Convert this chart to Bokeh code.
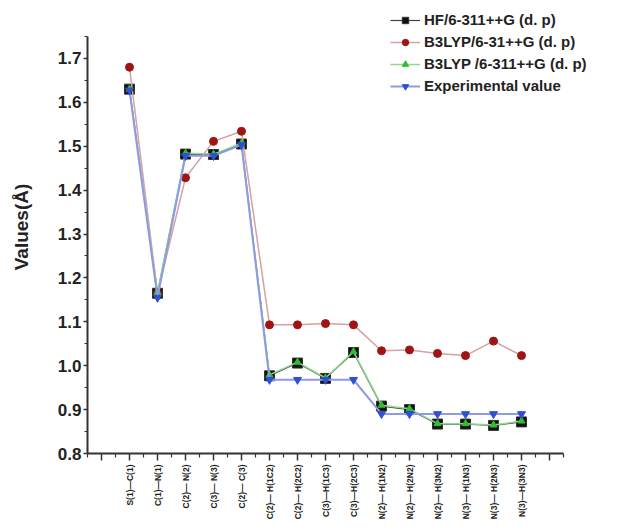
import math
from bokeh.plotting import figure
from bokeh.models import Range1d, FixedTicker, Legend, LegendItem, NumeralTickFormatter
from bokeh.embed import file_html
from bokeh.resources import INLINE

categories = ["S(1)—C(1)", "C(1)—N(1)", "C(2)— N(2)", "C(3)— N(3)", "C(2)— C(3)",
              "C(2)— H(1C2)", "C(2)— H(2C2)", "C(3)—H(1C3)", "C(3)—H(2C3)",
              "N(2)— H(1N2)", "N(2)— H(2N2)", "N(2)— H(3N2)", "N(3)— H(1N3)",
              "N(3)— H(2N3)", "N(3)—H(3N3)"]
x_pos = [1, 2, 3, 4, 5, 6, 7, 8, 9, 10, 11, 12, 13, 14, 15]

hf = [1.630, 1.165, 1.482, 1.481, 1.505, 0.977, 1.006, 0.971, 1.030,
      0.908, 0.900, 0.867, 0.867, 0.864, 0.872]
b3lyp_631 = [1.680, 1.165, 1.428, 1.511, 1.534, 1.093, 1.093, 1.096, 1.093,
             1.034, 1.036, 1.028, 1.023, 1.056, 1.023]
b3lyp_6311 = [1.630, 1.167, 1.484, 1.482, 1.507, 0.979, 1.008, 0.972, 1.032,
              0.910, 0.902, 0.868, 0.868, 0.865, 0.874]
experimental = [1.627, 1.155, 1.478, 1.478, 1.503, 0.968, 0.968, 0.968, 0.968,
                0.890, 0.890, 0.890, 0.890, 0.890, 0.890]

y_ticks = [0.8, 0.9, 1.0, 1.1, 1.2, 1.3, 1.4, 1.5, 1.6, 1.7]
y_minor = [0.85, 0.95, 1.05, 1.15, 1.25, 1.35, 1.45, 1.55, 1.65, 1.75]
x_ticks = [0, 1, 2, 3, 4, 5, 6, 7, 8, 9, 10, 11, 12, 13, 14, 15, 16]
x_minor = [-0.5, 0.5, 1.5, 2.5, 3.5, 4.5, 5.5, 6.5, 7.5, 8.5, 9.5, 10.5, 11.5,
           12.5, 13.5, 14.5, 15.5, 16.5]

# frame spans beyond the drawn axes so the legend (above/right of axes) is not clipped
FRAME_W = 524
FRAME_H = 453
PX_PER_X = 28.0
PX_PER_Y = 439.0

p = figure(frame_width=FRAME_W, frame_height=FRAME_H,
           x_range=Range1d(-0.5, -0.5 + FRAME_W / PX_PER_X),
           y_range=Range1d(0.8, 0.8 + FRAME_H / PX_PER_Y),
           output_backend="svg", toolbar_location=None,
           min_border_left=87, min_border_top=0, min_border_right=0,
           min_border_bottom=60)
p.outline_line_color = None
p.xgrid.visible = False
p.ygrid.visible = False
p.background_fill_color = "white"
p.border_fill_color = "white"

FONT = "Liberation Sans"

r1l = p.line(x_pos, hf, line_color="#444444", line_width=1.2)
r1m = p.scatter(x_pos, hf, marker="square", size=10, fill_color="#111111",
                line_color="#333333", line_width=1)
r2l = p.line(x_pos, b3lyp_631, line_color="#d8a0a0", line_width=1.5)
r2m = p.scatter(x_pos, b3lyp_631, marker="circle", size=8, fill_color="#a01414",
                line_color="#a01414")
r3l = p.line(x_pos, b3lyp_6311, line_color="#8fd88f", line_width=1.5)
r3m = p.scatter(x_pos, b3lyp_6311, marker="triangle", size=7, fill_color="#2fc02f",
                line_color="#2fc02f")
r4l = p.line(x_pos, experimental, line_color="#8f9ae6", line_width=2)
r4m = p.scatter(x_pos, experimental, marker="inverted_triangle", size=8,
                fill_color="#3050d0", line_color="#3050d0")

# axes
for ax in (p.xaxis[0], p.yaxis[0]):
    ax.axis_line_color = "#333333"
    ax.axis_line_width = 2
    ax.major_tick_line_color = "#333333"
    ax.minor_tick_line_color = "#333333"
    ax.major_tick_line_width = 1.5
    ax.minor_tick_line_width = 1.2
    ax.major_tick_in = 0
    ax.minor_tick_in = 0

p.yaxis.bounds = (0.8, 1.75)
p.yaxis.ticker = FixedTicker(ticks=y_ticks, minor_ticks=y_minor)
p.yaxis.formatter = NumeralTickFormatter(format="0.0")
p.yaxis.major_tick_out = 4
p.yaxis.minor_tick_out = 3
p.yaxis.major_label_text_font = FONT
p.yaxis.major_label_text_font_style = "bold"
p.yaxis.major_label_text_font_size = "17px"
p.yaxis.major_label_text_color = "#222222"
p.yaxis.major_label_standoff = 2
p.yaxis.axis_label = "Values(Å)"
p.yaxis.axis_label_text_font = FONT
p.yaxis.axis_label_text_font_style = "bold"
p.yaxis.axis_label_text_font_size = "19px"
p.yaxis.axis_label_text_color = "#222222"
p.yaxis.axis_label_standoff = 23

p.xaxis.bounds = (-0.5, 16.5)
p.xaxis.ticker = FixedTicker(ticks=x_ticks, minor_ticks=x_minor)
overrides = {0: "", 16: ""}
for xp, c in zip(x_pos, categories):
    overrides[xp] = c
p.xaxis.major_label_overrides = overrides
p.xaxis.major_label_orientation = math.pi / 2
p.xaxis.major_tick_out = 7
p.xaxis.minor_tick_out = 4
p.xaxis.major_label_text_font = FONT
p.xaxis.major_label_text_font_style = "bold"
p.xaxis.major_label_text_font_size = "8.5px"
p.xaxis.major_label_text_color = "#222222"
p.xaxis.major_label_standoff = 4

legend = Legend(items=[
    LegendItem(label="HF/6-311++G (d. p)", renderers=[r1l, r1m]),
    LegendItem(label="B3LYP/6-31++G (d. p)", renderers=[r2l, r2m]),
    LegendItem(label="B3LYP /6-311++G (d. p)", renderers=[r3l, r3m]),
    LegendItem(label="Experimental value", renderers=[r4l, r4m]),
], location=(303, 359))
legend.border_line_color = None
legend.background_fill_alpha = 0
legend.padding = 0
legend.margin = 0
legend.spacing = 5
legend.glyph_width = 30
legend.glyph_height = 16
legend.label_height = 16
legend.label_standoff = 4
legend.label_text_font = FONT
legend.label_text_font_style = "bold"
legend.label_text_font_size = "15px"
legend.label_text_color = "#222222"
p.add_layout(legend, "center")

open("out.html", "w").write(file_html(p, INLINE))
